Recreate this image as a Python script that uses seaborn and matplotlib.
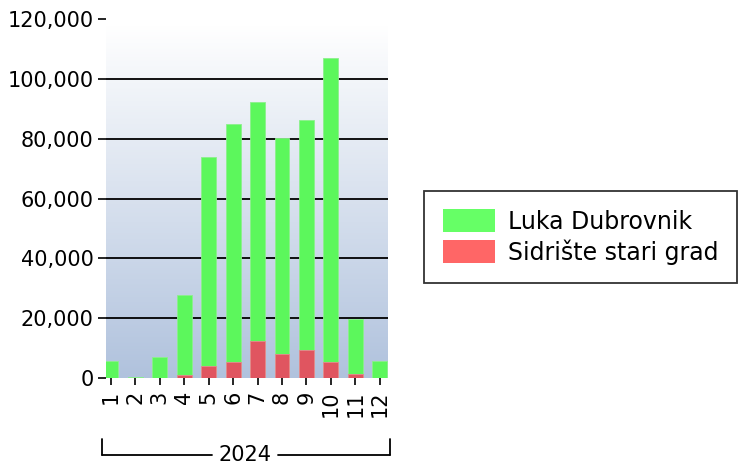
import numpy as np
import pandas as pd
import matplotlib
matplotlib.use("Agg")
import matplotlib.pyplot as plt
from matplotlib.patches import Patch
import seaborn as sns

# данные
months = ["1", "2", "3", "4", "5", "6", "7", "8", "9", "10", "11", "12"]
luka = [5800, 300, 7000, 26600, 69900, 79700, 80000, 72200, 76900, 101600, 18300, 5700]
sidriste = [0, 0, 0, 1100, 4100, 5350, 12300, 8100, 9500, 5550, 1400, 0]
year_label = "2024"
series_names = ["Luka Dubrovnik", "Sidrište stari grad"]

df = pd.DataFrame({"month": months, "luka": luka, "sidriste": sidriste})
df["total"] = df["luka"] + df["sidriste"]

sns.set_style("white")
plt.rcParams["font.family"] = ["DejaVu Sans"]
plt.rcParams["text.color"] = "black"
plt.rcParams["xtick.color"] = "black"
plt.rcParams["ytick.color"] = "black"

fig = plt.figure(figsize=(7.46, 4.68), dpi=100)
ax = fig.add_axes([0.142, 0.192, 0.378, 0.767])

# градиентный фон
grad = np.linspace(0, 1, 256).reshape(-1, 1)
cmap = matplotlib.colors.LinearSegmentedColormap.from_list("bg", ["#ffffff", "#b0c2dd"])
ax.imshow(grad, cmap=cmap, aspect="auto", extent=(-0.2, 11.33, 0, 118000),
          origin="upper", zorder=0)

sns.barplot(data=df, x="month", y="total", color="#5cf75c", width=0.61,
            saturation=1, ax=ax, zorder=2, edgecolor="#8cf08c", linewidth=0.6)
sns.barplot(data=df, x="month", y="sidriste", color="#e05560", width=0.61,
            saturation=1, ax=ax, zorder=3, edgecolor="#e88890", linewidth=0.6)

ax.set_xlim(-0.2, 11.33)
ax.set_ylim(0, 120000)
ax.set_yticks(range(0, 120001, 20000))
ax.yaxis.set_major_formatter(matplotlib.ticker.FuncFormatter(lambda v, p: f"{int(v):,}"))
for yv in range(20000, 100001, 20000):
    ax.axhline(yv, color="black", linewidth=1.3, zorder=1)
for s in ax.spines.values():
    s.set_visible(False)
ax.tick_params(axis="y", length=6, width=1.2, pad=3, labelsize=15, left=True)
ax.tick_params(axis="x", length=5, width=1.2, pad=4, labelsize=15, bottom=True,
               labelrotation=90)
ax.set_xlabel("")
ax.set_ylabel("")

# скобка с годом
yb = 1 - 455 / 468
yt = 1 - 439 / 468
fig.add_artist(plt.Line2D([102 / 746, 212 / 746], [yb, yb], color="black", lw=1.3))
fig.add_artist(plt.Line2D([278 / 746, 390 / 746], [yb, yb], color="black", lw=1.3))
fig.add_artist(plt.Line2D([102 / 746, 102 / 746], [yb, yt], color="black", lw=1.3))
fig.add_artist(plt.Line2D([390 / 746, 390 / 746], [yb, yt], color="black", lw=1.3))
fig.text(245 / 746, yb, year_label, ha="center", va="center", fontsize=15)

handles = [Patch(facecolor="#66ff66", edgecolor="none"),
           Patch(facecolor="#ff6666", edgecolor="none")]
leg = fig.legend(handles, series_names, loc="center left",
                 bbox_to_anchor=(424 / 746, 1 - 237 / 468), fontsize=17,
                 frameon=True, fancybox=False, edgecolor="black",
                 handlelength=2.2, handleheight=1.1, borderpad=0.8,
                 labelspacing=0.22, handletextpad=0.55, borderaxespad=0)
leg.get_frame().set_linewidth(1.3)

fig.savefig("out.png", dpi=100)
